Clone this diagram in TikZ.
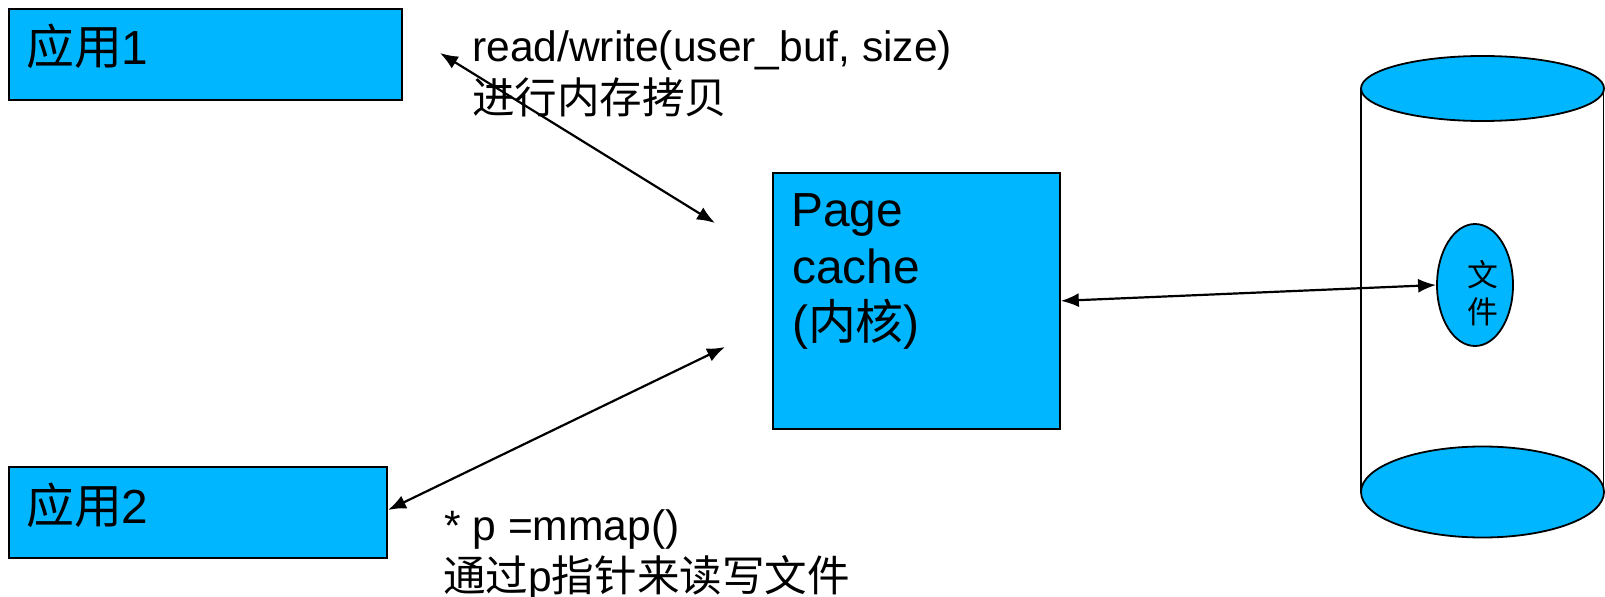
\documentclass[tikz,border=0pt]{standalone}
\usepackage{fontspec}
\setmainfont{Liberation Sans}
\newfontfamily\cjk{Noto Sans CJK SC}
\usetikzlibrary{arrows.meta,shapes.geometric}
\definecolor{boxblue}{RGB}{0,183,255}
\tikzset{
  box/.style={draw=black, line width=1.8bp, fill=boxblue, inner sep=0pt, anchor=north west},
  lbl/.style={inner sep=0pt, anchor=base west, font=\fontsize{48}{56}\selectfont},
  note/.style={inner sep=0pt, anchor=base west, font=\fontsize{42.7}{51}\selectfont},
  link/.style={line width=2.2bp, {Latex[length=18bp,width=14bp]}-{Latex[length=18bp,width=14bp]}},
  disk/.style={draw=black, line width=1.8bp, fill=boxblue},
}
\begin{document}
\begin{tikzpicture}[x=1bp,y=-1bp]
\useasboundingbox (0,0) rectangle (1605,597);

% application boxes and the page cache
\node[box, minimum width=393bp, minimum height=91bp] (app1) at (8,8) {};
\node[box, minimum width=378bp, minimum height=91bp] (app2) at (8,466) {};
\node[box, minimum width=287bp, minimum height=256bp] (cache) at (772,172) {};

\node[lbl] (app1text) at (26,65) {{\cjk 应用}1};
\node[lbl] (app2text) at (26,523) {{\cjk 应用}2};
\node[lbl] (cache1) at (791,227) {Page};
\node[lbl] (cache2) at (792,283) {cache};
\node[lbl] (cache3) at (792,339) {({\cjk 内核})};

% disk drawn as a cylinder
\draw[line width=1.8bp] (1361,88.5) -- (1361,492);
\draw[line width=1.8bp] (1603.5,88.5) -- (1603.5,492);
\draw[disk] (1482.5,492) ellipse [x radius=121.5, y radius=45.5];
\draw[disk] (1482.5,88.5) ellipse [x radius=121.5, y radius=32.5];

% file inside the disk
\node[ellipse, disk, minimum width=76bp, minimum height=122bp, inner sep=0pt] (file) at (1475,285) {};
\node[inner sep=0pt, align=center, font=\fontsize{31}{37}\cjk] (filetext) at (1483,293) {文\\件};

% annotations
\node[note] (rw1) at (472,62) {read/write(user\_buf, size)};
\node[note] (rw2) at (472,114) {\cjk 进行内存拷贝};
\node[note] (mm1) at (444,540) {* p =mmap()};
\node[note] (mm2) at (443,591) {{\cjk 通过}p{\cjk 指针来读写文件}};

% connectors
\coordinate (rwA) at (440,53);
\coordinate (rwB) at (715,223);
\coordinate (mmA) at (725,347);
\coordinate (mmB) at (388,510);
\draw[link] (rwA) -- (rwB);
\draw[link] (mmA) -- (mmB);
\draw[link] (cache.east) -- (file.west);
\end{tikzpicture}
\end{document}
